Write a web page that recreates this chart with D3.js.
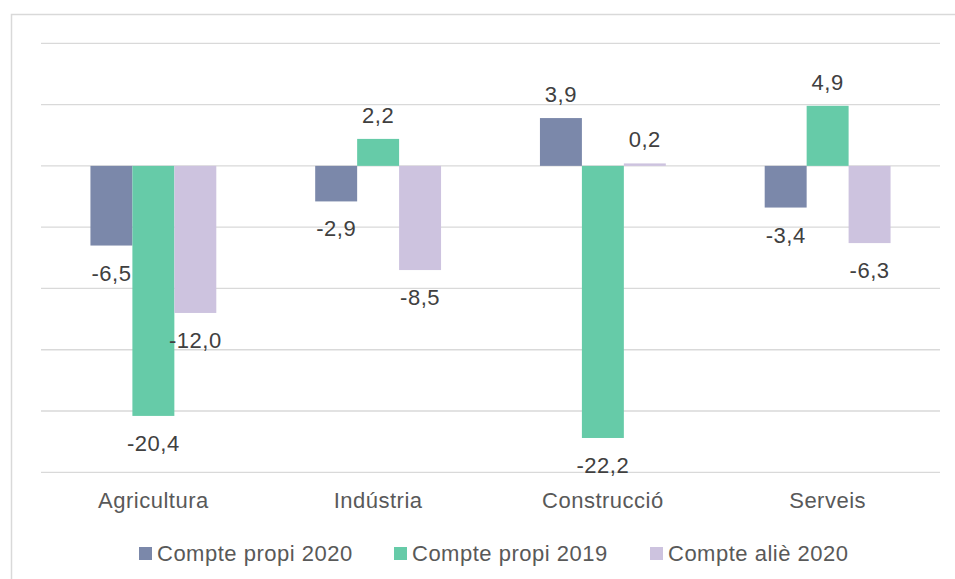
<!DOCTYPE html>
<html>
<head>
<meta charset="utf-8">
<script src="https://cdn.jsdelivr.net/npm/d3@7/dist/d3.min.js"></script>
<style>
  html, body { margin: 0; padding: 0; background: #fff; }
  svg { display: block; }
  text { font-family: "Liberation Sans", Arial, sans-serif; letter-spacing: 0.5px; }
</style>
</head>
<body>
<svg id="chart" width="955" height="579"></svg>
<script>
const categories = ["Agricultura", "Indústria", "Construcció", "Serveis"];
const seriesNames = ["Compte propi 2020", "Compte propi 2019", "Compte aliè 2020"];
const comptePropi2020 = [-6.5, -2.9, 3.9, -3.4];
const comptePropi2019 = [-20.4, 2.2, -22.2, 4.9];
const compteAlie2020 = [-12.0, -8.5, 0.2, -6.3];
const gridTicks = [10, 5, 0, -5, -10, -15, -20, -25];
const colors = ["#7b88aa", "#66cba8", "#cdc3df"];

const seriesValues = [comptePropi2020, comptePropi2019, compteAlie2020];

const svg = d3.select("#chart");

// outer border
svg.append("rect")
  .attr("x", 11.5).attr("y", 14.5)
  .attr("width", 960).attr("height", 600)
  .attr("fill", "none").attr("stroke", "#d9d9d9").attr("stroke-width", 1.5);

const plotLeft = 41, plotRight = 940, plotTop = 43.3, plotBottom = 472.3;

const y = d3.scaleLinear().domain([-25, 10]).range([plotBottom, plotTop]);
const x0 = d3.scaleBand().domain(categories).range([plotLeft, plotRight])
  .paddingInner(0.44).paddingOuter(0.22);
const x1 = d3.scaleBand().domain(d3.range(seriesNames.length)).range([0, x0.bandwidth()]);

const loc = d3.formatLocale({decimal: ",", thousands: ".", grouping: [3], currency: ["", "€"], minus: "-"});
const fmt = loc.format(".1f");

// gridlines
svg.append("g").selectAll("line").data(gridTicks).join("line")
  .attr("x1", plotLeft).attr("x2", plotRight)
  .attr("y1", d => y(d)).attr("y2", d => y(d))
  .attr("stroke", "#d9d9d9").attr("stroke-width", 1.3);

// bars
const groups = svg.append("g").selectAll("g").data(categories).join("g")
  .attr("transform", c => `translate(${x0(c)},0)`);

groups.each(function(c, ci) {
  const g = d3.select(this);
  const data = seriesValues.map((vals, si) => ({si, v: vals[ci]}));
  g.selectAll("rect").data(data).join("rect")
    .attr("x", d => x1(d.si))
    .attr("width", x1.bandwidth())
    .attr("y", d => Math.min(y(d.v), y(0)))
    .attr("height", d => Math.abs(y(d.v) - y(0)))
    .attr("fill", d => colors[d.si]);
  g.selectAll("text").data(data).join("text")
    .attr("x", d => x1(d.si) + x1.bandwidth() / 2)
    .attr("y", d => d.v >= 0 ? y(d.v) - 16 : y(d.v) + 35)
    .attr("text-anchor", "middle")
    .attr("font-size", 22)
    .attr("fill", "#404040")
    .text(d => fmt(d.v));
});

// category axis labels
const xAxis = d3.axisBottom(x0).tickSize(0).tickPadding(0);
const ax = svg.append("g").attr("transform", `translate(0,${plotBottom})`).call(xAxis);
ax.select(".domain").remove();
ax.selectAll("text")
  .attr("dy", null).attr("y", 36)
  .attr("font-size", 22).attr("fill", "#595959")
  .style("font-family", '"Liberation Sans", Arial, sans-serif');

// legend
const legendX = [139, 394, 650];
const lg = svg.append("g").selectAll("g").data(seriesNames).join("g")
  .attr("transform", (d, i) => `translate(${legendX[i]},0)`);
lg.append("rect").attr("x", 0).attr("y", 547).attr("width", 13).attr("height", 13)
  .attr("fill", (d, i) => colors[i]);
lg.append("text").attr("x", 18).attr("y", 561)
  .attr("font-size", 22).attr("fill", "#595959").text(d => d);
</script>
</body>
</html>
